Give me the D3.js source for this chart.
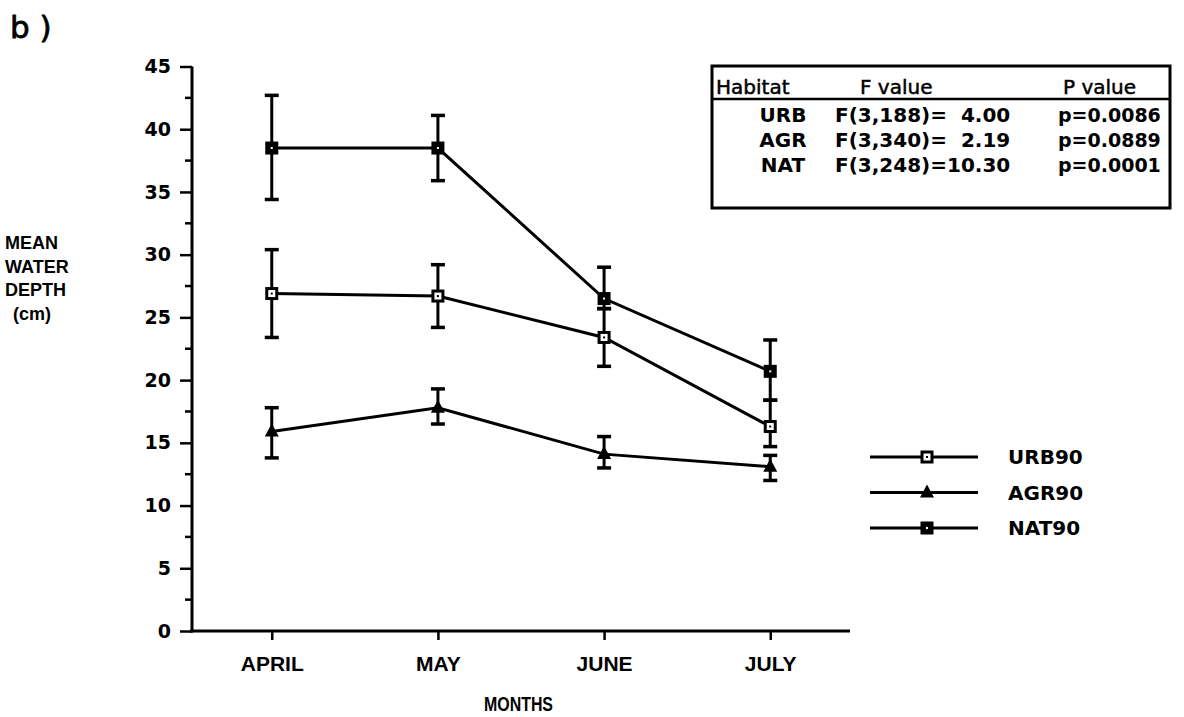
<!DOCTYPE html>
<html>
<head>
<meta charset="utf-8">
<script src="https://cdn.jsdelivr.net/npm/d3@7"></script>
<style>
  body { margin: 0; background: #fff; }
  text { font-family: "DejaVu Sans", sans-serif; font-weight: bold; fill: #000; }
  .narrow { font-family: "Liberation Sans", Arial, sans-serif; }
</style>
</head>
<body>
<div id="vis"></div>
<script>
var months = ["APRIL", "MAY", "JUNE", "JULY"];

var urbMean  = [26.9, 26.7, 23.4, 16.3];
var urbUpper = [30.4, 29.2, 25.7, 18.4];
var urbLower = [23.4, 24.2, 21.1, 14.7];

var agrMean  = [15.9, 17.8, 14.1, 13.1];
var agrUpper = [17.8, 19.3, 15.5, 14.0];
var agrLower = [13.8, 16.5, 13.0, 12.0];

var natMean  = [38.5, 38.5, 26.5, 20.7];
var natUpper = [42.7, 41.1, 29.0, 23.2];
var natLower = [34.4, 35.9, 25.7, 18.4];

var seriesNames = ["URB90", "AGR90", "NAT90"];
var yTicks = [0, 5, 10, 15, 20, 25, 30, 35, 40, 45];

var tableHeader = ["Habitat", "F value", "P value"];
var habitats = ["URB", "AGR", "NAT"];
var fValues = ["F(3,188)=  4.00", "F(3,340)=  2.19", "F(3,248)=10.30"];
var pValues = ["p=0.0086", "p=0.0889", "p=0.0001"];

var width = 1184, height = 717;
var svg = d3.select("#vis").append("svg").attr("width", width).attr("height", height);

var x = d3.scalePoint().domain(months).range([192, 850]).padding(0.48);
var y = d3.scaleLinear().domain([0, 45]).range([631, 66.5]);

function makeSeries(name, mean, upper, lower, marker){
  return {
    name: name, marker: marker,
    pts: months.map(function(m, i){ return {m: m, v: mean[i], hi: upper[i], lo: lower[i]}; })
  };
}
var series = [
  makeSeries(seriesNames[0], urbMean, urbUpper, urbLower, "open"),
  makeSeries(seriesNames[1], agrMean, agrUpper, agrLower, "tri"),
  makeSeries(seriesNames[2], natMean, natUpper, natLower, "filled")
];

// panel label
svg.append("text").attr("x", 10).attr("y", 38).style("font-size", "31px").style("font-weight", "normal")
  .style("stroke", "#000").style("stroke-width", 0.8)
  .attr("xml:space", "preserve").text("b )");

// y axis
var yAxis = d3.axisLeft(y).tickValues(yTicks).tickSize(12).tickPadding(9);
var gy = svg.append("g").attr("transform", "translate(192,0)").call(yAxis);
gy.select(".domain").remove();
gy.selectAll(".tick line").attr("stroke", "#000").attr("stroke-width", 2.5);
gy.selectAll(".tick text").attr("font-family", null).style("font-size", "19px");

var minor = d3.range(2.5, 45, 5);
svg.append("g").selectAll("line").data(minor).enter().append("line")
  .attr("x1", 185).attr("x2", 192)
  .attr("y1", function(d){ return y(d); }).attr("y2", function(d){ return y(d); })
  .attr("stroke", "#000").attr("stroke-width", 2.5);

svg.append("line").attr("x1", 192).attr("x2", 192).attr("y1", y(45)).attr("y2", y(0) + 1.5)
  .attr("stroke", "#000").attr("stroke-width", 3);

// x axis
var xAxis = d3.axisBottom(x).tickSize(9).tickPadding(16);
var gx = svg.append("g").attr("transform", "translate(0,631)").call(xAxis);
gx.select(".domain").remove();
gx.selectAll(".tick line").attr("stroke", "#000").attr("stroke-width", 2.5);
gx.selectAll(".tick text").attr("class", "narrow").attr("font-family", null).style("font-size", "21px");

svg.append("line").attr("x1", 190).attr("x2", 850).attr("y1", 631).attr("y2", 631)
  .attr("stroke", "#000").attr("stroke-width", 3);

svg.append("text").attr("class", "narrow").attr("x", 484).attr("y", 711)
  .attr("textLength", 69).attr("lengthAdjust", "spacingAndGlyphs")
  .style("font-size", "21px").text("MONTHS");

// y label
var ylab = ["MEAN", "WATER", "DEPTH", "(cm)"];
svg.append("g").selectAll("text").data(ylab).enter().append("text")
  .attr("class", "narrow")
  .attr("x", function(d, i){ return i === 3 ? 13 : 5; })
  .attr("y", function(d, i){ return 249 + i * 23.5; })
  .style("font-size", "18px")
  .text(function(d){ return d; });

// lines + error bars
var line = d3.line().x(function(d){ return x(d.m); }).y(function(d){ return y(d.v); });

series.forEach(function(s){
  svg.append("path").datum(s.pts).attr("d", line)
    .attr("fill", "none").attr("stroke", "#000").attr("stroke-width", 3);

  var eb = svg.append("g").selectAll("g").data(s.pts).enter().append("g");
  eb.append("line")
    .attr("x1", function(d){ return x(d.m); }).attr("x2", function(d){ return x(d.m); })
    .attr("y1", function(d){ return y(d.hi); }).attr("y2", function(d){ return y(d.lo); })
    .attr("stroke", "#000").attr("stroke-width", 3);
  ["hi", "lo"].forEach(function(k){
    eb.append("line")
      .attr("x1", function(d){ return x(d.m) - 7; }).attr("x2", function(d){ return x(d.m) + 7; })
      .attr("y1", function(d){ return y(d[k]); }).attr("y2", function(d){ return y(d[k]); })
      .attr("stroke", "#000").attr("stroke-width", 3.5);
  });
});

function drawMarker(g, type, cx, cy){
  if(type === "tri"){
    g.append("path").attr("d", "M" + cx + "," + (cy - 8) + "L" + (cx + 7) + "," + (cy + 5) + "L" + (cx - 7) + "," + (cy + 5) + "Z")
      .attr("fill", "#000");
  } else if(type === "open"){
    g.append("rect").attr("x", cx - 5).attr("y", cy - 5).attr("width", 10).attr("height", 10)
      .attr("fill", "#fff").attr("stroke", "#000").attr("stroke-width", 3);
    g.append("rect").attr("x", cx - 1).attr("y", cy - 1).attr("width", 2).attr("height", 2).attr("fill", "#000");
  } else {
    g.append("rect").attr("x", cx - 6.5).attr("y", cy - 6.5).attr("width", 13).attr("height", 13).attr("fill", "#000");
    g.append("rect").attr("x", cx - 1).attr("y", cy - 1).attr("width", 2).attr("height", 2).attr("fill", "#fff");
  }
}

series.forEach(function(s){
  var g = svg.append("g");
  s.pts.forEach(function(d){ drawMarker(g, s.marker, x(d.m), y(d.v)); });
});

// legend
var leg = svg.append("g");
series.forEach(function(s, i){
  var ly = 457 + i * 35.5;
  leg.append("line").attr("x1", 870).attr("x2", 978).attr("y1", ly).attr("y2", ly)
    .attr("stroke", "#000").attr("stroke-width", 3);
  drawMarker(leg, s.marker, 927, ly);
  leg.append("text").attr("x", 1008).attr("y", ly + 7).style("font-size", "20px").text(s.name);
});

// stats table
var tb = svg.append("g");
tb.append("rect").attr("x", 712).attr("y", 66).attr("width", 458).attr("height", 142)
  .attr("fill", "#fff").attr("stroke", "#000").attr("stroke-width", 3);
tb.append("line").attr("x1", 712).attr("x2", 1170).attr("y1", 99).attr("y2", 99)
  .attr("stroke", "#000").attr("stroke-width", 2.5);
var headX = [716, 860, 1063];
tableHeader.forEach(function(h, i){
  tb.append("text").attr("x", headX[i]).attr("y", 94)
    .style("font-size", "20px").style("font-weight", "normal").style("stroke", "#000").style("stroke-width", 0.5)
    .text(h);
});
habitats.forEach(function(h, i){
  var ry = 122 + i * 25;
  tb.append("text").attr("x", 783).attr("y", ry).attr("text-anchor", "middle").style("font-size", "20px").text(h);
  tb.append("text").attr("x", 835).attr("y", ry).attr("xml:space", "preserve").style("font-size", "20px").text(fValues[i]);
  tb.append("text").attr("x", 1058).attr("y", ry).style("font-size", "19px").text(pValues[i]);
});
</script>
</body>
</html>
